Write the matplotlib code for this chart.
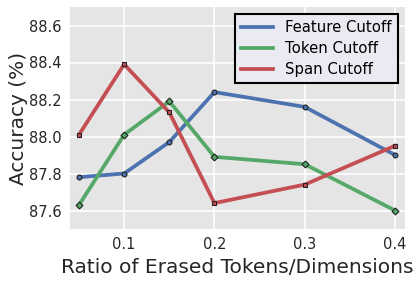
import matplotlib
matplotlib.use('Agg')
import matplotlib.pyplot as plt

# Data
ratios = [0.05, 0.1, 0.15, 0.2, 0.3, 0.4]
featureAcc = [87.78, 87.80, 87.97, 88.24, 88.16, 87.90]
tokenAcc = [87.63, 88.01, 88.19, 87.89, 87.85, 87.60]
spanAcc = [88.01, 88.39, 88.13, 87.64, 87.74, 87.95]

xTicks = [0.1, 0.2, 0.3, 0.4]
yTicks = [87.6, 87.8, 88.0, 88.2, 88.4, 88.6]

plt.rcParams['font.family'] = ['DejaVu Sans']

fig = plt.figure(figsize=(4.18, 2.83), dpi=100)
ax = fig.add_axes([70 / 418, 1 - 229 / 283, 335 / 418, 222 / 283])
ax.set_facecolor('#E5E5E5')
ax.grid(True, color='white', linewidth=1.2)
ax.set_axisbelow(True)
for s in ax.spines.values():
    s.set_visible(False)

ax.plot(ratios, featureAcc, color='#4C72B0', lw=2.7, marker='o', ms=3.5,
        mec='#222222', mew=0.8, label='Feature Cutoff')
ax.plot(ratios, tokenAcc, color='#55A868', lw=2.7, marker='D', ms=3.5,
        mec='#222222', mew=0.8, label='Token Cutoff')
ax.plot(ratios, spanAcc, color='#C44E52', lw=2.7, marker='s', ms=3.5,
        mec='#222222', mew=0.8, label='Span Cutoff')

ax.set_xlim(0.04, 0.411)
ax.set_ylim(87.5, 88.7)
ax.set_xticks(xTicks)
ax.set_yticks(yTicks)
ax.tick_params(length=0, labelsize=10.5, colors='#262626', pad=6)
ax.set_xlabel('Ratio of Erased Tokens/Dimensions', fontsize=14.5, color='#262626')
ax.set_ylabel('Accuracy (%)', fontsize=14.5, color='#262626', labelpad=1)

leg = ax.legend(loc='upper right', fontsize=10.7, framealpha=1, fancybox=False,
                handlelength=2.2, borderpad=0.4, labelspacing=0.4)
leg.get_frame().set_facecolor('#EAEAF2')
leg.get_frame().set_edgecolor('black')
leg.get_frame().set_linewidth(1.5)
for h in leg.get_lines():
    h.set_marker('')

fig.savefig('out.png', dpi=100)
